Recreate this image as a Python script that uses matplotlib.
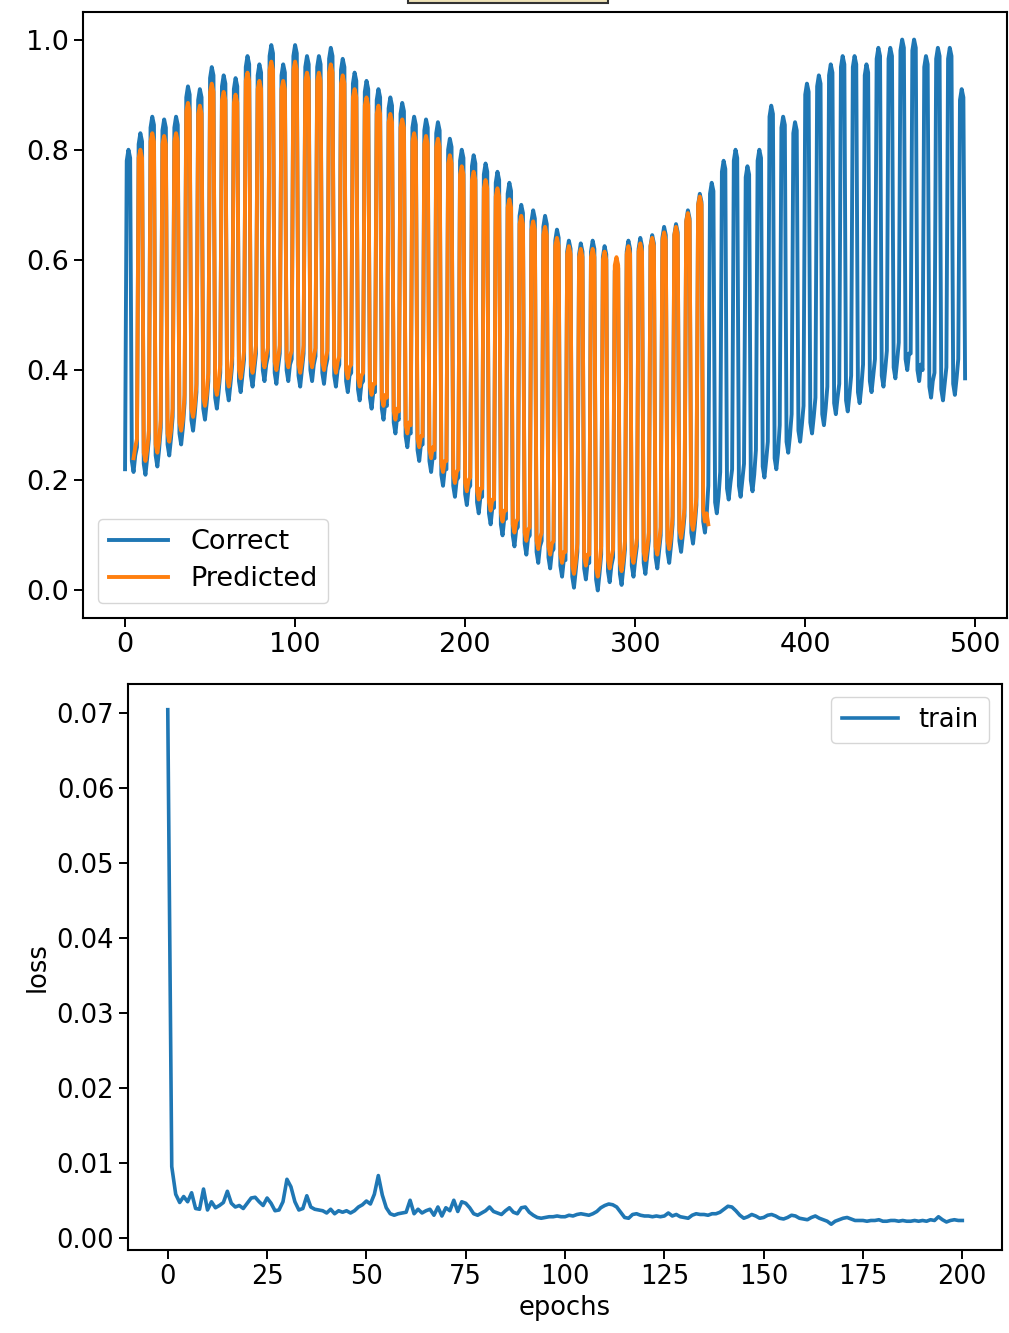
# forecast vs. actual + training loss

import numpy as np
import matplotlib
matplotlib.use('Agg')
import matplotlib.pyplot as plt
from matplotlib.patches import Rectangle
from matplotlib.ticker import MultipleLocator

# correct series, one row per 7-step cycle (high steps at positions 1-3)
correct_rows = [
    [0.22, 0.78, 0.80, 0.785, 0.235, 0.215, 0.245],
    [0.26, 0.81, 0.83, 0.815, 0.23, 0.21, 0.24],
    [0.275, 0.84, 0.86, 0.845, 0.245, 0.225, 0.255],
    [0.295, 0.835, 0.855, 0.84, 0.265, 0.245, 0.275],
    [0.315, 0.84, 0.86, 0.845, 0.285, 0.265, 0.295],
    [0.34, 0.895, 0.915, 0.90, 0.31, 0.29, 0.32],
    [0.36, 0.89, 0.91, 0.895, 0.33, 0.31, 0.34],
    [0.38, 0.93, 0.95, 0.935, 0.35, 0.33, 0.36],
    [0.395, 0.915, 0.935, 0.92, 0.365, 0.345, 0.375],
    [0.41, 0.91, 0.93, 0.915, 0.38, 0.36, 0.39],
    [0.42, 0.95, 0.97, 0.955, 0.39, 0.37, 0.40],
    [0.43, 0.935, 0.955, 0.94, 0.40, 0.38, 0.41],
    [0.425, 0.97, 0.99, 0.975, 0.395, 0.375, 0.405],
    [0.43, 0.935, 0.955, 0.94, 0.40, 0.38, 0.41],
    [0.42, 0.97, 0.99, 0.975, 0.39, 0.37, 0.40],
    [0.43, 0.95, 0.97, 0.955, 0.40, 0.38, 0.41],
    [0.425, 0.95, 0.97, 0.955, 0.395, 0.375, 0.405],
    [0.42, 0.965, 0.985, 0.97, 0.39, 0.37, 0.40],
    [0.41, 0.945, 0.965, 0.95, 0.38, 0.36, 0.39],
    [0.395, 0.92, 0.94, 0.925, 0.365, 0.345, 0.375],
    [0.38, 0.905, 0.925, 0.91, 0.35, 0.33, 0.36],
    [0.36, 0.89, 0.91, 0.895, 0.33, 0.31, 0.34],
    [0.335, 0.875, 0.895, 0.88, 0.305, 0.285, 0.315],
    [0.31, 0.865, 0.885, 0.87, 0.28, 0.26, 0.29],
    [0.285, 0.84, 0.86, 0.845, 0.255, 0.235, 0.265],
    [0.265, 0.835, 0.855, 0.84, 0.235, 0.215, 0.245],
    [0.24, 0.83, 0.85, 0.835, 0.21, 0.19, 0.22],
    [0.22, 0.80, 0.82, 0.805, 0.19, 0.17, 0.20],
    [0.205, 0.78, 0.80, 0.785, 0.175, 0.155, 0.185],
    [0.19, 0.77, 0.79, 0.775, 0.16, 0.14, 0.17],
    [0.17, 0.755, 0.775, 0.76, 0.14, 0.12, 0.15],
    [0.15, 0.74, 0.76, 0.745, 0.12, 0.10, 0.13],
    [0.13, 0.72, 0.74, 0.725, 0.10, 0.08, 0.11],
    [0.115, 0.68, 0.70, 0.685, 0.085, 0.065, 0.095],
    [0.10, 0.67, 0.69, 0.675, 0.07, 0.05, 0.08],
    [0.09, 0.66, 0.68, 0.665, 0.06, 0.04, 0.07],
    [0.075, 0.635, 0.655, 0.64, 0.045, 0.025, 0.055],
    [0.055, 0.615, 0.635, 0.62, 0.025, 0.005, 0.035],
    [0.07, 0.61, 0.63, 0.615, 0.04, 0.02, 0.05],
    [0.05, 0.615, 0.635, 0.62, 0.02, 0.0, 0.03],
    [0.065, 0.605, 0.625, 0.61, 0.035, 0.015, 0.045],
    [0.06, 0.58, 0.60, 0.585, 0.03, 0.01, 0.04],
    [0.075, 0.615, 0.635, 0.62, 0.045, 0.025, 0.055],
    [0.08, 0.62, 0.64, 0.625, 0.05, 0.03, 0.06],
    [0.09, 0.625, 0.645, 0.63, 0.06, 0.04, 0.07],
    [0.10, 0.64, 0.66, 0.645, 0.07, 0.05, 0.08],
    [0.12, 0.645, 0.665, 0.65, 0.09, 0.07, 0.10],
    [0.135, 0.67, 0.69, 0.675, 0.105, 0.085, 0.115],
    [0.155, 0.70, 0.72, 0.705, 0.125, 0.105, 0.135],
    [0.19, 0.72, 0.74, 0.725, 0.16, 0.14, 0.17],
    [0.215, 0.76, 0.78, 0.765, 0.185, 0.165, 0.195],
    [0.22, 0.78, 0.80, 0.785, 0.19, 0.17, 0.20],
    [0.23, 0.75, 0.77, 0.755, 0.20, 0.18, 0.21],
    [0.255, 0.78, 0.80, 0.785, 0.225, 0.205, 0.235],
    [0.27, 0.86, 0.88, 0.865, 0.24, 0.22, 0.25],
    [0.30, 0.84, 0.86, 0.845, 0.27, 0.25, 0.28],
    [0.32, 0.83, 0.85, 0.835, 0.29, 0.27, 0.30],
    [0.335, 0.90, 0.92, 0.905, 0.305, 0.285, 0.315],
    [0.35, 0.915, 0.935, 0.92, 0.32, 0.30, 0.33],
    [0.37, 0.935, 0.955, 0.94, 0.34, 0.32, 0.35],
    [0.375, 0.95, 0.97, 0.955, 0.345, 0.325, 0.355],
    [0.39, 0.95, 0.97, 0.955, 0.36, 0.34, 0.37],
    [0.41, 0.935, 0.955, 0.94, 0.38, 0.36, 0.39],
    [0.42, 0.965, 0.985, 0.97, 0.39, 0.37, 0.40],
    [0.435, 0.965, 0.985, 0.97, 0.405, 0.385, 0.415],
    [0.45, 0.98, 1.0, 0.985, 0.42, 0.40, 0.43],
    [0.43, 0.98, 1.0, 0.985, 0.40, 0.38, 0.41],
    [0.40, 0.95, 0.97, 0.955, 0.37, 0.35, 0.38],
    [0.395, 0.965, 0.985, 0.97, 0.365, 0.345, 0.375],
    [0.405, 0.965, 0.985, 0.97, 0.375, 0.355, 0.385],
    [0.42, 0.89, 0.91, 0.895, 0.385],
]

# predicted series, starts at step 5 and stops at step 343
predicted_start = 5
predicted_rows = [
    [0.24, 0.26],
    [0.275, 0.785, 0.80, 0.785, 0.25, 0.235, 0.255],
    [0.29, 0.815, 0.83, 0.815, 0.265, 0.25, 0.27],
    [0.31, 0.81, 0.825, 0.81, 0.285, 0.27, 0.29],
    [0.33, 0.815, 0.83, 0.815, 0.305, 0.29, 0.31],
    [0.355, 0.87, 0.885, 0.87, 0.33, 0.315, 0.335],
    [0.375, 0.865, 0.88, 0.865, 0.35, 0.335, 0.355],
    [0.395, 0.905, 0.92, 0.905, 0.37, 0.355, 0.375],
    [0.41, 0.89, 0.905, 0.89, 0.385, 0.37, 0.39],
    [0.425, 0.885, 0.90, 0.885, 0.40, 0.385, 0.405],
    [0.435, 0.925, 0.94, 0.925, 0.41, 0.395, 0.415],
    [0.445, 0.91, 0.925, 0.91, 0.42, 0.405, 0.425],
    [0.44, 0.945, 0.96, 0.945, 0.415, 0.40, 0.42],
    [0.445, 0.91, 0.925, 0.91, 0.42, 0.405, 0.425],
    [0.435, 0.945, 0.96, 0.945, 0.41, 0.395, 0.415],
    [0.445, 0.925, 0.94, 0.925, 0.42, 0.405, 0.425],
    [0.44, 0.925, 0.94, 0.925, 0.415, 0.40, 0.42],
    [0.435, 0.94, 0.955, 0.94, 0.41, 0.395, 0.415],
    [0.425, 0.92, 0.935, 0.92, 0.40, 0.385, 0.405],
    [0.41, 0.895, 0.91, 0.895, 0.385, 0.37, 0.39],
    [0.395, 0.88, 0.895, 0.88, 0.37, 0.355, 0.375],
    [0.375, 0.865, 0.88, 0.865, 0.35, 0.335, 0.355],
    [0.35, 0.85, 0.865, 0.85, 0.325, 0.31, 0.33],
    [0.325, 0.84, 0.855, 0.84, 0.30, 0.285, 0.305],
    [0.30, 0.815, 0.83, 0.815, 0.275, 0.26, 0.28],
    [0.28, 0.81, 0.825, 0.81, 0.255, 0.24, 0.26],
    [0.255, 0.805, 0.82, 0.805, 0.23, 0.215, 0.235],
    [0.235, 0.775, 0.79, 0.775, 0.21, 0.195, 0.215],
    [0.22, 0.755, 0.77, 0.755, 0.195, 0.18, 0.20],
    [0.205, 0.745, 0.76, 0.745, 0.18, 0.165, 0.185],
    [0.185, 0.73, 0.745, 0.73, 0.16, 0.145, 0.165],
    [0.165, 0.715, 0.73, 0.715, 0.14, 0.125, 0.145],
    [0.145, 0.695, 0.71, 0.695, 0.12, 0.105, 0.125],
    [0.13, 0.665, 0.68, 0.665, 0.105, 0.09, 0.11],
    [0.115, 0.655, 0.67, 0.655, 0.09, 0.075, 0.095],
    [0.105, 0.645, 0.66, 0.645, 0.08, 0.065, 0.085],
    [0.09, 0.625, 0.64, 0.625, 0.065, 0.05, 0.07],
    [0.07, 0.61, 0.625, 0.61, 0.045, 0.03, 0.05],
    [0.085, 0.605, 0.62, 0.605, 0.06, 0.045, 0.065],
    [0.065, 0.605, 0.62, 0.605, 0.04, 0.025, 0.045],
    [0.08, 0.60, 0.615, 0.60, 0.055, 0.04, 0.06],
    [0.075, 0.59, 0.605, 0.59, 0.05, 0.035, 0.055],
    [0.09, 0.61, 0.625, 0.61, 0.065, 0.05, 0.07],
    [0.095, 0.615, 0.63, 0.615, 0.07, 0.055, 0.075],
    [0.105, 0.625, 0.64, 0.625, 0.08, 0.065, 0.085],
    [0.115, 0.635, 0.65, 0.635, 0.09, 0.075, 0.095],
    [0.135, 0.645, 0.66, 0.645, 0.11, 0.095, 0.115],
    [0.15, 0.67, 0.685, 0.67, 0.125, 0.11, 0.13],
    [0.17, 0.70, 0.715, 0.70, 0.145, 0.125, 0.14],
    [0.12],
]

# training loss per epoch (0..200)
train_loss = [
    0.0705, 0.0095, 0.0058, 0.0047, 0.0055, 0.0048, 0.0060, 0.0039, 0.0038, 0.0065,
    0.0037, 0.0048, 0.0040, 0.0043, 0.0047, 0.0062, 0.0046, 0.0041, 0.0043, 0.0039,
    0.0046, 0.0053, 0.0054, 0.0048, 0.0043, 0.0053, 0.0046, 0.0036, 0.0037, 0.0048,
    0.0078, 0.0068, 0.0048, 0.0037, 0.0039, 0.0056, 0.0041, 0.0038, 0.0037, 0.0036,
    0.0033, 0.0038, 0.0032, 0.0036, 0.0034, 0.0036, 0.0033, 0.0036, 0.0041, 0.0044,
    0.0049, 0.0045, 0.0058, 0.0083, 0.0057, 0.0040, 0.0032, 0.0030, 0.0032, 0.0033,
    0.0034, 0.0050, 0.0032, 0.0038, 0.0033, 0.0036, 0.0038, 0.0030, 0.0041, 0.0029,
    0.0040, 0.0036, 0.0050, 0.0035, 0.0048, 0.0046, 0.0040, 0.0032, 0.0030, 0.0033,
    0.0036, 0.0041, 0.0035, 0.0033, 0.0031, 0.0036, 0.0040, 0.0034, 0.0032, 0.0040,
    0.0041, 0.0034, 0.0030, 0.0027, 0.0026, 0.0027, 0.0028, 0.0028, 0.0029, 0.0028,
    0.0028, 0.0030, 0.0029, 0.0031, 0.0032, 0.0031, 0.0030, 0.0032, 0.0035, 0.0040,
    0.0043, 0.0045, 0.0044, 0.0041, 0.0034, 0.0027, 0.0026, 0.0031, 0.0032, 0.0030,
    0.0029, 0.0029, 0.0028, 0.0029, 0.0028, 0.0029, 0.0033, 0.0029, 0.0031, 0.0028,
    0.0027, 0.0026, 0.0030, 0.0032, 0.0031, 0.0031, 0.0030, 0.0032, 0.0032, 0.0034,
    0.0038, 0.0042, 0.0041, 0.0036, 0.0030, 0.0026, 0.0028, 0.0031, 0.0029, 0.0026,
    0.0027, 0.0030, 0.0031, 0.0029, 0.0026, 0.0025, 0.0027, 0.0030, 0.0029, 0.0026,
    0.0025, 0.0024, 0.0027, 0.0029, 0.0026, 0.0024, 0.0022, 0.0018, 0.0022, 0.0024,
    0.0026, 0.0027, 0.0025, 0.0023, 0.0023, 0.0023, 0.0022, 0.0023, 0.0023, 0.0024,
    0.0022, 0.0022, 0.0023, 0.0023, 0.0022, 0.0023, 0.0022, 0.0022, 0.0023, 0.0022,
    0.0023, 0.0022, 0.0024, 0.0023, 0.0028, 0.0024, 0.0021, 0.0023, 0.0024, 0.0023,
    0.0023,
]

correct = np.concatenate([np.array(r) for r in correct_rows])
predicted = np.concatenate([np.array(r) for r in predicted_rows])
x_correct = np.arange(len(correct))
x_pred = np.arange(predicted_start, predicted_start + len(predicted))
epochs = np.arange(len(train_loss))

plt.rcParams['font.family'] = 'DejaVu Sans'
fig = plt.figure(figsize=(10.09, 13.33), dpi=100)

# --- top: correct vs predicted
ax1 = fig.add_axes([0.0823, 0.5364, 0.9158, 0.4546])
ax1.plot(x_correct, correct, color='#1f77b4', lw=2.8, label='Correct')
ax1.plot(x_pred, predicted, color='#ff7f0e', lw=2.8, label='Predicted')
ax1.tick_params(labelsize=19.5, length=6.5, width=1.4)
ax1.legend(loc='lower left', fontsize=19.5, handlelength=2.2,
           borderaxespad=0.55, labelspacing=0.4)
for s in ax1.spines.values():
    s.set_linewidth(1.5)

# --- bottom: training loss
ax2 = fig.add_axes([0.1269, 0.0623, 0.8662, 0.4246])
ax2.plot(epochs, train_loss, color='#1f77b4', lw=2.6, label='train')
ax2.xaxis.set_major_locator(MultipleLocator(25))
ax2.yaxis.set_major_locator(MultipleLocator(0.01))
ax2.tick_params(labelsize=18.5, length=6.5, width=1.4)
ax2.set_xlabel('epochs', fontsize=18.5)
ax2.set_ylabel('loss', fontsize=18.5)
ax2.legend(loc='upper right', fontsize=18.5, handlelength=2.2)
for s in ax2.spines.values():
    s.set_linewidth(1.5)

# leftover box peeking in at the top edge
fig.patches.append(Rectangle((0.4044, 0.9978), 0.198, 0.01, transform=fig.transFigure,
                             facecolor='#efe3b8', edgecolor='#333333', lw=1.5, clip_on=False))

fig.savefig('out.png', dpi=100)
